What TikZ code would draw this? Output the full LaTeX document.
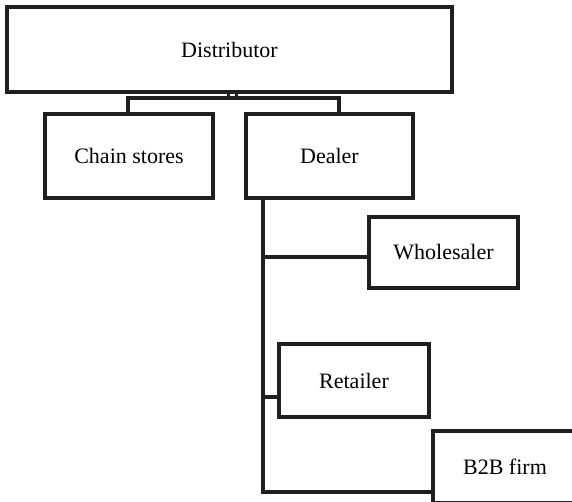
\documentclass[tikz,border=0pt]{standalone}
\usepackage{fontspec}
\setmainfont{Liberation Serif}
\begin{document}
\begin{tikzpicture}[x=1pt,y=1pt,
  box/.style={draw=black!88, line width=3.8pt, fill=white, inner sep=0pt, outer sep=0pt,
    font=\fontsize{22}{26}\selectfont},
  link/.style={draw=black!88, line width=3.8pt}]
\useasboundingbox (0,0) rectangle (572,-502);
\clip (0,0) rectangle (572,-502);

% anchor points for the connectors
\coordinate (stem) at (232,-98);
\coordinate (barL) at (128,-98);
\coordinate (barR) at (339,-98);
\coordinate (trunkTop) at (263,-196);
\coordinate (trunkEnd) at (263,-492);

% boxes
\node[box, minimum width=445pt, minimum height=85pt] (dist) at (229.5,-49.5) {Distributor};
\node[box, minimum width=168pt, minimum height=84pt] (chain) at (129,-156) {Chain stores};
\node[box, minimum width=167pt, minimum height=84pt] (dealer) at (329.5,-156) {Dealer};
\node[box, minimum width=149pt, minimum height=71pt] (whole) at (443.5,-252.5) {Wholesaler};
\node[box, minimum width=150pt, minimum height=73pt] (retail) at (354,-380.5) {Retailer};
\node[box, minimum width=144pt, minimum height=72pt] (b2b) at (505,-467) {B2B firm};

% short twin stem under the distributor
\draw[link, line width=3pt] ([xshift=-4pt]dist.south -| stem) -- ([xshift=-4pt]stem);
\draw[link, line width=3pt] ([xshift=4pt]dist.south -| stem) -- ([xshift=4pt]stem);

% bar to chain stores and dealer
\draw[link] (chain.north -| barL) -- (barL) -- (barR) -- (dealer.north -| barR);

% dealer trunk and branches
\draw[link] (dealer.south -| trunkTop) -- (trunkEnd) -- (trunkEnd -| b2b.west);
\draw[link] (trunkTop |- 0,-257) -- (whole.west |- 0,-257);
\draw[link] (trunkTop |- 0,-397) -- (retail.west |- 0,-397);
\end{tikzpicture}
\end{document}
